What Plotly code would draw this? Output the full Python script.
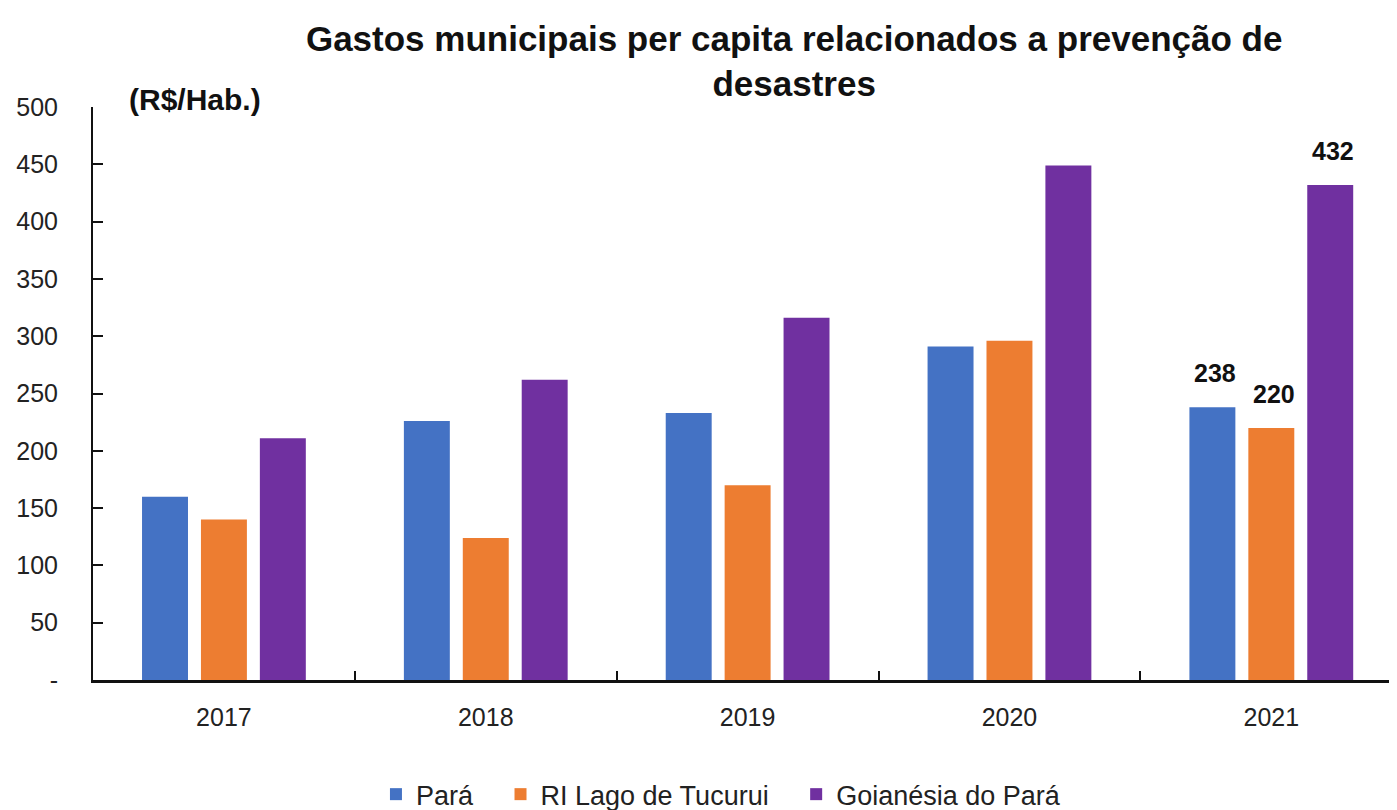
import plotly.graph_objects as go

# data (R$/Hab.)
anos = ['2017', '2018', '2019', '2020', '2021']
para = [160, 226, 233, 291, 238]
ri_lago_tucurui = [140, 124, 170, 296, 220]
goianesia_do_para = [211, 262, 316, 449, 432]

series = [
    ('Pará', para, '#4472C4'),
    ('RI Lago de Tucurui', ri_lago_tucurui, '#ED7D31'),
    ('Goianésia do Pará', goianesia_do_para, '#7030A0'),
]

font = 'Liberation Sans, Arial, sans-serif'
pad = '\u00a0' * 3  # extra room between legend entries

fig = go.Figure()
for name, values, color in series:
    fig.add_trace(go.Bar(
        x=anos,
        y=values,
        name=name + pad,
        marker=dict(color=color, line=dict(width=0)),
    ))

# data labels only on the 2021 bars, lifted a bit above the bar tops
slot = 59  # px between bar centres inside a group
last = len(anos) - 1  # category index of 2021
labels = []
for i, (name, values, color) in enumerate(series):
    labels.append(dict(
        x=last, y=values[last], text=f'{values[last]}',
        xref='x', yref='y', showarrow=False,
        xshift=(i - 1) * slot + 3, yshift=34, yanchor='middle',
        font=dict(family=font, size=25, color='#111111', weight='bold'),
    ))

# the page body adds an 8px offset, so the figure is 8px smaller than the window
fig.update_layout(
    width=1389,
    height=802,
    paper_bgcolor='white',
    plot_bgcolor='white',
    margin=dict(l=85, r=0, t=99, b=130, autoexpand=False),
    barmode='group',
    bargap=0.325,
    bargroupgap=0.22,
    title=dict(
        text='Gastos municipais per capita relacionados a prevenção de<br>desastres',
        x=0.566,
        xanchor='center',
        xref='container',
        y=0.947,
        yanchor='top',
        yref='container',
        font=dict(family=font, size=35, color='#111111', weight='bold'),
    ),
    xaxis=dict(
        range=[-0.5, 4.48],
        automargin=False,
        showline=True,
        linecolor='#111111',
        linewidth=3,
        ticks='inside',
        tickson='boundaries',
        ticklen=9,
        tickwidth=2,
        tickcolor='#111111',
        tickfont=dict(family=font, size=25, color='#222222'),
        ticklabelstandoff=13,
        showgrid=False,
        zeroline=False,
    ),
    yaxis=dict(
        range=[0, 500],
        automargin=False,
        tickvals=[0, 50, 100, 150, 200, 250, 300, 350, 400, 450, 500],
        ticktext=['-', '50', '100', '150', '200', '250', '300', '350', '400', '450', '500'],
        showline=True,
        linecolor='#111111',
        linewidth=2,
        ticks='inside',
        ticklen=10,
        tickwidth=1.5,
        tickcolor='#111111',
        tickfont=dict(family=font, size=25, color='#222222'),
        ticklabelstandoff=28,
        showgrid=False,
        zeroline=False,
    ),
    legend=dict(
        orientation='h',
        x=0.49,
        xanchor='center',
        y=-0.2,
        yanchor='middle',
        font=dict(family=font, size=27, color='#222222'),
        itemwidth=30,
    ),
    annotations=[dict(
        text='(R$/Hab.)',
        xref='paper',
        yref='paper',
        x=0.026,
        y=1.013,
        xanchor='left',
        yanchor='middle',
        showarrow=False,
        font=dict(family=font, size=30, color='#111111', weight='bold'),
    )] + labels,
)

fig.write_html('out.html')
